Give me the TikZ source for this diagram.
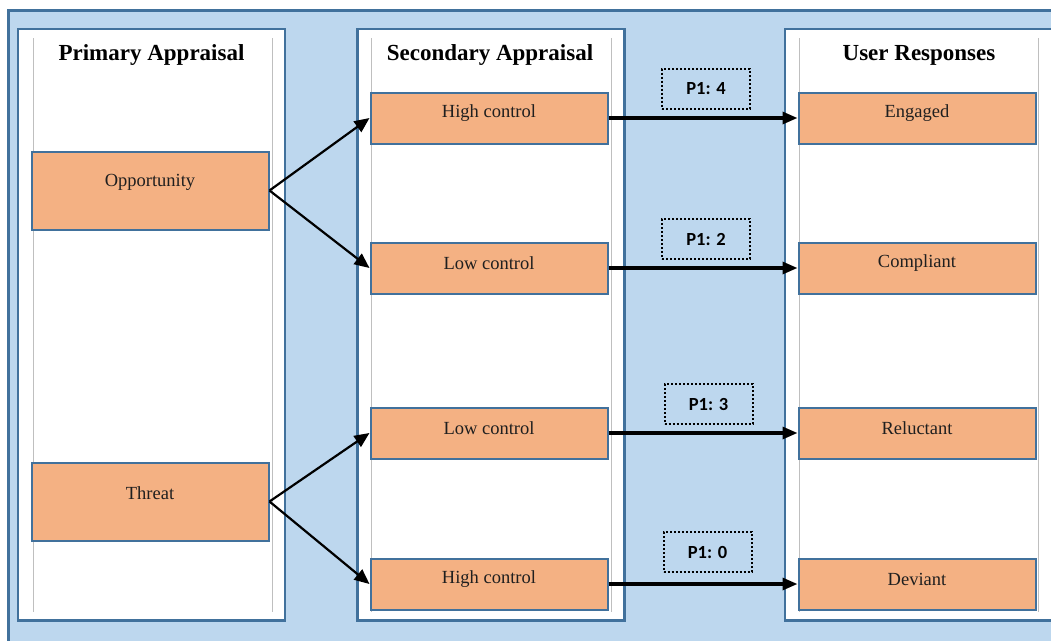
\documentclass[tikz,border=0pt]{standalone}
\usepackage{fontspec}
\setmainfont{Liberation Serif}
\newfontfamily\labelfont{Carlito}
\usetikzlibrary{arrows.meta}
\definecolor{panelblue}{HTML}{BDD7EE}
\definecolor{edgeblue}{HTML}{41719C}
\definecolor{boxorange}{HTML}{F4B183}
\definecolor{guidegray}{HTML}{BFBFBF}
\tikzset{
  panel/.style={draw=edgeblue, line width=2.2pt, fill=white},
  guide/.style={draw=guidegray, line width=1pt},
  title/.style={font=\bfseries\fontsize{23}{26}\selectfont, inner sep=0pt},
  box/.style={draw=edgeblue, line width=2pt, fill=boxorange, minimum width=237pt, inner sep=0pt},
  smallbox/.style={box, minimum height=51pt},
  bigbox/.style={box, minimum height=78pt},
  boxtext/.style={font=\fontsize{18.5}{21}\selectfont, text=black!88, inner sep=0pt},
  tag/.style={draw=black, line width=2pt, dash pattern=on 2pt off 2pt, minimum width=88pt, minimum height=40pt, inner sep=0pt, font=\labelfont\bfseries\fontsize{18.5}{21}\selectfont},
  fork/.style={line width=2.2pt, -{Triangle[length=15pt, width=13pt]}},
  link/.style={line width=3.2pt, -{Triangle[length=15pt, width=12pt]}}
}
\begin{document}
\begin{tikzpicture}[x=1pt, y=-1pt]
\useasboundingbox (0,0) rectangle (1051,640);
\clip (0,0) rectangle (1051,640);
% background panel
\fill[white] (0,0) rectangle (1051,640);
\draw[fill=panelblue, draw=edgeblue, line width=2.2pt] (8.5,10.5) rectangle (1070,660);
% three columns
\draw[panel] (18,29) rectangle (285,620.5);
\draw[panel] (357.5,29) rectangle (624.5,620.5);
\draw[panel] (785,29) rectangle (1070,620.5);
\draw[guide] (33,38) -- (33,612);
\draw[guide] (272,38) -- (272,612);
\draw[guide] (371,38) -- (371,612);
\draw[guide] (611,38) -- (611,612);
\draw[guide] (799,38) -- (799,612);
\draw[guide] (1038,38) -- (1038,612);
% column titles
\node[title] (t1) at (151.5,55) {Primary Appraisal};
\node[title] (t2) at (490,55) {Secondary Appraisal};
\node[title] (t3) at (919,55) {User Responses};
% primary appraisal
\node[bigbox] (opp) at (150,190.5) {};
\node[boxtext] (oppt) at ([yshift=-32pt]opp.north) {Opportunity};
\node[bigbox] (thr) at (150,501.5) {};
\node[boxtext] (thrt) at ([yshift=-32pt]thr.north) {Threat};
% secondary appraisal
\node[smallbox] (s1) at (489,118) {};
\node[boxtext] (s1t) at ([yshift=-22pt]s1.north) {High control};
\node[smallbox] (s2) at (489,268) {};
\node[boxtext] (s2t) at ([yshift=-22pt]s2.north) {Low control};
\node[smallbox] (s3) at (489,433) {};
\node[boxtext] (s3t) at ([yshift=-22pt]s3.north) {Low control};
\node[smallbox] (s4) at (489,584) {};
\node[boxtext] (s4t) at ([yshift=-22pt]s4.north) {High control};
% user responses
\node[smallbox] (r1) at (917,118) {};
\node[boxtext] (r1t) at ([yshift=-22pt]r1.north) {Engaged};
\node[smallbox] (r2) at (917,268) {};
\node[boxtext] (r2t) at ([yshift=-22pt]r2.north) {Compliant};
\node[smallbox] (r3) at (917,433) {};
\node[boxtext] (r3t) at ([yshift=-22pt]r3.north) {Reluctant};
\node[smallbox] (r4) at (917,584) {};
\node[boxtext] (r4t) at ([yshift=-22pt]r4.north) {Deviant};
% proposition tags
\node[tag] (p4) at (706,88.5) {P1: 4};
\node[tag] (p2) at (706,239) {P1: 2};
\node[tag] (p3) at (708.5,404) {P1: 3};
\node[tag] (p0) at (707.5,552) {P1: 0};
% connectors
\draw[fork] (opp.east) -- (s1.west);
\draw[fork] (opp.east) -- (s2.west);
\draw[fork] (thr.east) -- (s3.west);
\draw[fork] (thr.east) -- (s4.west);
\draw[link] (s1.east) -- (r1.west);
\draw[link] (s2.east) -- (r2.west);
\draw[link] (s3.east) -- (r3.west);
\draw[link] (s4.east) -- (r4.west);
\end{tikzpicture}
\end{document}
